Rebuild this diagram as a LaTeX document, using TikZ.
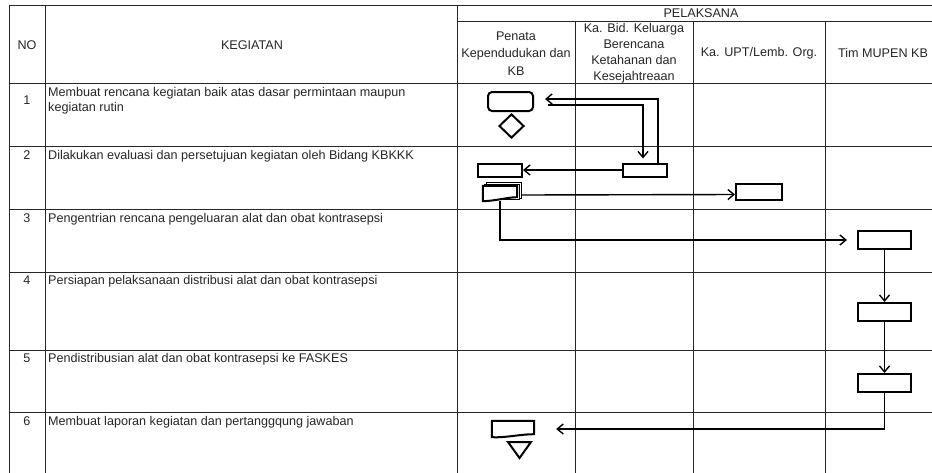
\documentclass[tikz,border=0pt]{standalone}
\usepackage{fontspec}
\setmainfont{Liberation Sans}
\usetikzlibrary{shapes.geometric,arrows.meta}
\begin{document}
\begin{tikzpicture}[x=1pt,y=-1pt,
  grid/.style={line width=0.9pt, draw=black!85},
  txt/.style={font=\fontsize{12.6}{15}\selectfont, inner sep=0pt, text=black!85},
  hdr/.style={txt, align=center},
  shp/.style={draw=black, line width=2pt, fill=white, inner sep=0pt},
  shpthin/.style={draw=black, line width=1.3pt, fill=white},
  ghost/.style={draw=none, inner sep=0pt},
  arr/.style={draw=black, line width=1.4pt, -{Straight Barb[length=6pt,width=10pt]}}
]
\useasboundingbox (0,0) rectangle (932,472);
\clip (0,0) rectangle (932,472);
% grid
\draw[grid] (9,5) -- (945,5);
\draw[grid] (457,21) -- (945,21);
\foreach \yy in {83,146,209,272,350,412} \draw[grid] (9,\yy) -- (945,\yy);
\foreach \xx in {9,45,457} \draw[grid] (\xx,5) -- (\xx,480);
\foreach \xx in {575,693,825} \draw[grid] (\xx,21) -- (\xx,480);
% header
\node[txt] (hno) at (27,45) {NO};
\node[txt] (hkeg) at (252,45) {KEGIATAN};
\node[txt] (hpel) at (701,13) {PELAKSANA};
\node[hdr, font=\fontsize{12.6}{17.5}\selectfont] (hpen) at (516,53.5) {Penata\\Kependudukan dan\\KB};
\node[hdr, font=\fontsize{12.6}{16}\selectfont] (hkb) at (634,53) {Ka. Bid. Keluarga\\Berencana\\Ketahanan dan\\Kesejahtreaan};
\node[txt] (hupt) at (759,53) {Ka. UPT/Lemb. Org.};
\node[txt] (htim) at (883,53) {Tim MUPEN KB};
% rows
\node[txt, anchor=base] (n1) at (27,104.5) {1};
\node[txt, anchor=base west] (k1a) at (48,96.5) {Membuat rencana kegiatan baik atas dasar permintaan maupun};
\node[txt, anchor=base west] (k1b) at (48,111.5) {kegiatan rutin};
\node[txt, anchor=base] (n2) at (27,159) {2};
\node[txt, anchor=base west] (k2) at (48,159) {Dilakukan evaluasi dan persetujuan kegiatan oleh Bidang KBKKK};
\node[txt, anchor=base] (n3) at (27,222.5) {3};
\node[txt, anchor=base west] (k3) at (48,222.5) {Pengentrian rencana pengeluaran alat dan obat kontrasepsi};
\node[txt, anchor=base] (n4) at (27,284.5) {4};
\node[txt, anchor=base west] (k4) at (48,284.5) {Persiapan pelaksanaan distribusi alat dan obat kontrasepsi};
\node[txt, anchor=base] (n5) at (27,362.5) {5};
\node[txt, anchor=base west] (k5) at (48,362.5) {Pendistribusian alat dan obat kontrasepsi ke FASKES};
\node[txt, anchor=base] (n6) at (27,425.5) {6};
\node[txt, anchor=base west] (k6) at (48,425.5) {Membuat laporan kegiatan dan pertanggqung jawaban};
% shapes
\node[shp, rounded corners=4pt, minimum width=45pt, minimum height=19pt] (t1) at (510.5,101.5) {};
\node[shp, diamond, aspect=1, minimum width=25pt, minimum height=24pt] (d1) at (511.5,126) {};
\node[shp, minimum width=44pt, minimum height=13pt] (kb2) at (645,170) {};
\node[shp, minimum width=44pt, minimum height=13pt] (p2) at (500,170) {};
\node[ghost, minimum width=34pt, minimum height=15pt] (md) at (500,193.5) {};
\draw[shpthin] ([shift={(4,-3)}]md.north west) rectangle ([shift={(4,-3)}]md.south east);
\draw[shpthin] ([shift={(2,-1.5)}]md.north west) rectangle ([shift={(2,-1.5)}]md.south east);
\draw[shp] (md.north west) -- (md.north east) -- ([yshift=4pt]md.south east)
  .. controls (509,197) and (495,201) .. (md.south west) -- cycle;
\node[shp, minimum width=46pt, minimum height=16pt] (u2) at (759,192) {};
\node[shp, minimum width=53pt, minimum height=18pt] (m3) at (884.5,240) {};
\node[shp, minimum width=53pt, minimum height=18pt] (m4) at (884.5,312) {};
\node[shp, minimum width=53pt, minimum height=18pt] (m5) at (884.5,383) {};
\node[ghost, minimum width=42pt, minimum height=16pt] (doc6) at (513,429) {};
\draw[shp] (doc6.north west) -- (doc6.north east) -- ([yshift=3pt]doc6.south east)
  .. controls (522,434) and (505,438) .. (doc6.south west) -- cycle;
\coordinate (tri6) at (519.5,448);
\draw[shp] (508,442) -- (531,442) -- (519.5,458) -- cycle;
% connectors
\draw[arr, shorten <=14pt, shorten >=4pt] ([yshift=-3.5pt]t1.east) -| ([xshift=-2pt]kb2.north);
\draw[arr, shorten >=11pt] ([xshift=13pt]kb2.north) |- ([yshift=2.5pt]t1.east);
\draw[arr] (kb2.west) -- (p2.east);
\draw[arr] ([xshift=4pt,yshift=-1.5pt]md.east) -- ([yshift=-1pt]md.east -| u2.west);
\draw[arr, shorten >=10pt] (md.south) |- (m3.west);
\draw[arr] (m3.south) -- (m4.north);
\draw[arr] (m4.south) -- (m5.north);
\draw[arr, shorten >=22pt] (m5.south) |- (doc6.east);
\end{tikzpicture}
\end{document}
